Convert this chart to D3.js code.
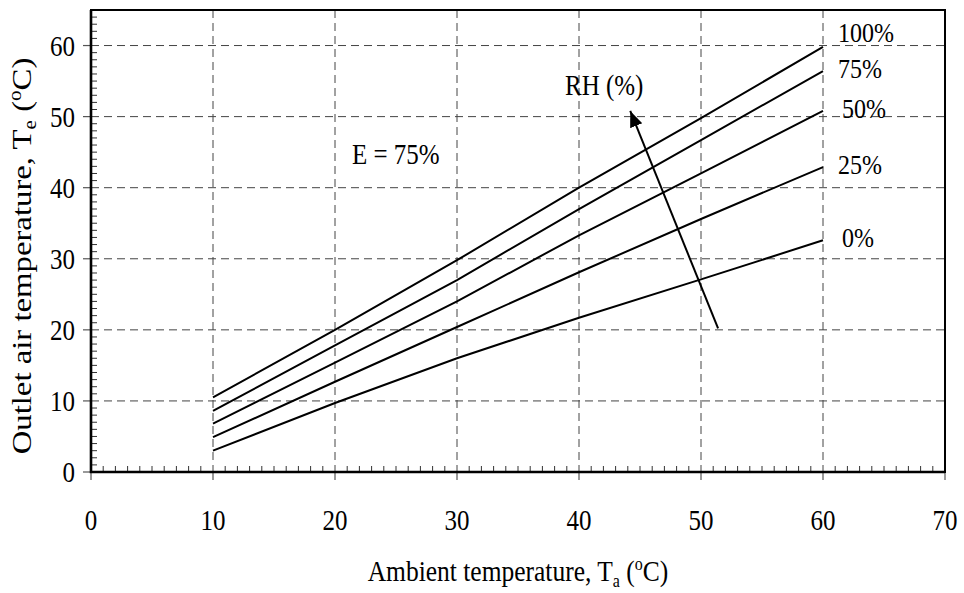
<!DOCTYPE html>
<html>
<head>
<meta charset="utf-8">
<title>Outlet air temperature vs ambient temperature</title>
<script src="https://d3js.org/d3.v7.min.js"></script>
<style>
	body { margin: 0; background: #fff; }
	text { font-family: "Liberation Serif", "Times New Roman", serif; fill: #000; }
</style>
</head>
<body>
<svg id="chart" width="964" height="593">
	<defs>
		<marker id="head" markerUnits="userSpaceOnUse" markerWidth="17" markerHeight="14"
			refX="16" refY="6.5" orient="auto">
			<path d="M0,0 L16,6.5 L0,13 Z" fill="#000"></path>
		</marker>
	</defs>
</svg>
<script>
	// ambient temperature (x) and outlet temperature for each RH curve
	var ambient = [10, 20, 30, 40, 50, 60];
	var rhNames = ["100%", "75%", "50%", "25%", "0%"];
	var rh100 = [10.5, 20.0, 29.8, 40.0, 49.8, 59.8];
	var rh75  = [8.6, 17.8, 27.0, 37.0, 46.7, 56.4];
	var rh50  = [6.8, 15.4, 24.0, 33.3, 42.0, 50.8];
	var rh25  = [4.9, 12.7, 20.4, 28.1, 35.6, 42.9];
	var rh0   = [3.0, 9.7, 16.0, 21.7, 27.1, 32.6];
	var curves = [rh100, rh75, rh50, rh25, rh0];

	var xTicks = [0, 10, 20, 30, 40, 50, 60, 70];
	var yTicks = [0, 10, 20, 30, 40, 50, 60];

	// RH arrow, in data units (tail, head)
	var arrowTail = [51.4, 20.2];
	var arrowHead = [44.2, 50.8];

	var svg = d3.select('#chart');
	var pLeft = 91, pRight = 945, pTop = 10, pBottom = 472;
	var STRETCH = 1.17;

	var x = d3.scaleLinear().domain([0, 70]).range([pLeft, pRight]);
	var y = d3.scaleLinear().domain([0, 65]).range([pBottom, pTop]);

	// text that looks vertically stretched like the original
	function placeText(sel, px, py) {
		return sel.attr('transform', 'translate(' + px + ',' + py + ') scale(1,' + STRETCH + ')');
	}

	// dashed grid
	svg.append('g').selectAll('line')
		.data(yTicks.filter(function(d) { return d > 0; }))
		.enter().append('line')
		.attr('x1', pLeft).attr('x2', pRight)
		.attr('y1', function(d) { return y(d); }).attr('y2', function(d) { return y(d); })
		.attr('stroke', '#444').attr('stroke-width', 1).attr('stroke-dasharray', '8,5');
	svg.append('g').selectAll('line')
		.data(xTicks.filter(function(d) { return d > 0 && d < 70; }))
		.enter().append('line')
		.attr('y1', pTop).attr('y2', pBottom)
		.attr('x1', function(d) { return x(d); }).attr('x2', function(d) { return x(d); })
		.attr('stroke', '#444').attr('stroke-width', 1).attr('stroke-dasharray', '8,5');

	// minor ticks (inside)
	var xMinor = d3.range(1, 70).filter(function(d) { return d % 10 != 0; });
	var yMinor = d3.range(1, 65).filter(function(d) { return d % 10 != 0; });
	svg.append('g').selectAll('line').data(xMinor).enter().append('line')
		.attr('x1', function(d) { return x(d); }).attr('x2', function(d) { return x(d); })
		.attr('y1', pBottom).attr('y2', pBottom - 6)
		.attr('stroke', '#333').attr('stroke-width', 1);
	svg.append('g').selectAll('line').data(yMinor).enter().append('line')
		.attr('y1', function(d) { return y(d); }).attr('y2', function(d) { return y(d); })
		.attr('x1', pLeft).attr('x2', pLeft + 6)
		.attr('stroke', '#333').attr('stroke-width', 1);

	// major ticks (outside)
	svg.append('g').selectAll('line').data(xTicks).enter().append('line')
		.attr('x1', function(d) { return x(d); }).attr('x2', function(d) { return x(d); })
		.attr('y1', pBottom).attr('y2', pBottom + 8)
		.attr('stroke', '#555').attr('stroke-width', 1.2);
	svg.append('g').selectAll('line').data(yTicks).enter().append('line')
		.attr('y1', function(d) { return y(d); }).attr('y2', function(d) { return y(d); })
		.attr('x1', pLeft - 8).attr('x2', pLeft)
		.attr('stroke', '#555').attr('stroke-width', 1.2);

	// frame
	svg.append('rect')
		.attr('x', pLeft).attr('y', pTop)
		.attr('width', pRight - pLeft).attr('height', pBottom - pTop)
		.attr('fill', 'none').attr('stroke', '#000').attr('stroke-width', 2);
	svg.append('path')
		.attr('d', 'M' + pLeft + ',' + pTop + ' L' + pLeft + ',' + pBottom + ' L' + pRight + ',' + pBottom)
		.attr('fill', 'none').attr('stroke', '#000').attr('stroke-width', 2.6);

	// tick labels
	svg.append('g').selectAll('text').data(xTicks).enter().append('text')
		.attr('text-anchor', 'middle').style('font-size', '25px')
		.text(function(d) { return d; })
		.each(function(d) { placeText(d3.select(this), x(d), 530); });
	svg.append('g').selectAll('text').data(yTicks).enter().append('text')
		.attr('text-anchor', 'end').style('font-size', '25px')
		.text(function(d) { return d; })
		.each(function(d) { placeText(d3.select(this), 75, y(d) + 10); });

	// curves
	var line = d3.line()
		.x(function(d, i) { return x(ambient[i]); })
		.y(function(d) { return y(d); });
	svg.append('g').selectAll('path').data(curves).enter().append('path')
		.attr('d', line)
		.attr('fill', 'none').attr('stroke', '#000').attr('stroke-width', 2);

	// curve labels at the right ends
	svg.append('g').selectAll('text').data(curves).enter().append('text')
		.style('font-size', '24px')
		.text(function(d, i) { return rhNames[i]; })
		.each(function(d, i) {
			var last = d[d.length - 1];
			var dy = (i == 0) ? -5 : 7;
			var dx = (i == 2 || i == 4) ? 19 : 15;
			placeText(d3.select(this), x(60) + dx, y(last) + dy);
		});

	// RH arrow
	svg.append('line')
		.attr('x1', x(arrowTail[0])).attr('y1', y(arrowTail[1]))
		.attr('x2', x(arrowHead[0])).attr('y2', y(arrowHead[1]))
		.attr('stroke', '#000').attr('stroke-width', 2)
		.attr('marker-end', 'url(#head)');
	placeText(svg.append('text').style('font-size', '25px').text('RH (%)'), 565, 95);
	placeText(svg.append('text').style('font-size', '25px').text('E = 75%'), 352, 164);

	// axis titles
	var xt = svg.append('text').attr('text-anchor', 'middle').style('font-size', '25.5px');
	xt.append('tspan').text('Ambient temperature, T');
	xt.append('tspan').text('a').style('font-size', '16px').attr('dy', 5);
	xt.append('tspan').text(' (').attr('dy', -5);
	xt.append('tspan').text('o').style('font-size', '16px').attr('dy', -9);
	xt.append('tspan').text('C)').attr('dy', 9);
	placeText(xt, (pLeft + pRight) / 2, 581);

	var yt = svg.append('text').attr('text-anchor', 'middle').style('font-size', '28px')
		.attr('transform', 'translate(31,256) scale(1,' + STRETCH + ') rotate(-90)');
	yt.append('tspan').text('Outlet air temperature, T');
	yt.append('tspan').text('e').style('font-size', '18px').attr('dy', 5);
	yt.append('tspan').text(' (').attr('dy', -5);
	yt.append('tspan').text('o').style('font-size', '18px').attr('dy', -10);
	yt.append('tspan').text('C)').attr('dy', 10);
</script>
</body>
</html>
